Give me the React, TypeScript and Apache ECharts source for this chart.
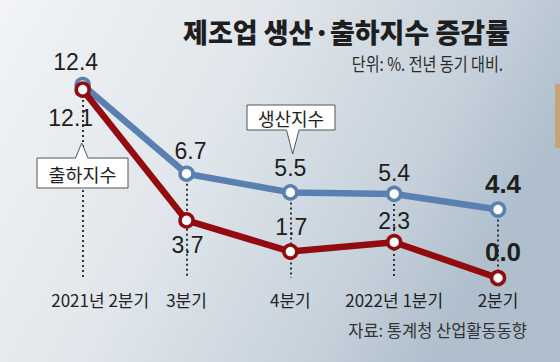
import React, { useEffect, useRef } from "react";
import * as echarts from "echarts";

const categories = ["2021년 2분기", "3분기", "4분기", "2022년 1분기", "2분기"];
const productionValues = [12.4, 6.7, 5.5, 5.4, 4.4];
const shipmentValues = [12.1, 3.7, 1.7, 2.3, 0.0];
// label offsets [dx, dy] relative to the point
const productionLabelOffsets = [[-7, -23], [4, -23], [0, -24], [0, -21], [5, -26]];
const shipmentLabelOffsets = [[-12, 28], [1, 25], [1, -25], [0, -21], [5, -26]];
const boldLast = true;

const titleText = "제조업 생산·출하지수 증감률";
const subtitleText = "단위: %. 전년 동기 대비.";
const sourceText = "자료: 통계청 산업활동동향";
const productionName = "생산지수";
const shipmentName = "출하지수";

const BLUE = "#5a80b2";
const RED = "#930b0f";
const NUM_FONT = '"Liberation Sans Narrow", "Liberation Sans", Arial, sans-serif';
const KR_FONT = '"Noto Sans CJK KR", "Noto Sans", sans-serif';

function makeLabels(values: number[], offsets: number[][]) {
  return values.map((v, i) => {
    const last = i === values.length - 1 && boldLast;
    return {
      value: v,
      label: {
        show: true,
        position: "inside",
        offset: offsets[i],
        formatter: v.toFixed(1),
        fontFamily: last ? '"Liberation Sans", Arial, sans-serif' : NUM_FONT,
        fontSize: last ? 26 : 23,
        fontWeight: last ? "bold" : "normal",
        color: "#1e1e1e",
      },
    };
  });
}

export default function App() {
  const ref = useRef<HTMLDivElement>(null);
  useEffect(() => {
    if (!ref.current) return;
    const chart = echarts.init(ref.current, undefined, { renderer: "svg" });
    const dropLines = categories.map((_, i) => [
      { coord: [i, Math.max(productionValues[i], shipmentValues[i])] },
      { coord: [i, 0] },
    ]);
    chart.setOption({
      animation: false,
      backgroundColor: {
        type: "linear",
        x: 0,
        y: 0,
        x2: 1,
        y2: 0.35,
        colorStops: [
          { offset: 0, color: "#f2f4f6" },
          { offset: 0.45, color: "#e0e6eb" },
          { offset: 0.8, color: "#c6d1db" },
          { offset: 1, color: "#afbfcd" },
        ],
      },
      grid: { left: 82.7, right: 62, top: 85, bottom: 84 },
      xAxis: {
        type: "category",
        boundaryGap: false,
        data: categories.map((c, i) =>
          i === 0 ? { value: c, textStyle: { padding: [0, 0, 0, 35] } } : c
        ),
        axisLine: { show: false },
        axisTick: { show: false },
        splitLine: { show: false },
        axisLabel: {
          margin: 13,
          fontFamily: KR_FONT,
          fontSize: 17,
          color: "#222",
          interval: 0,
        },
      },
      yAxis: { type: "value", show: false, min: 0, max: 12.4 },
      series: [
        {
          type: "line",
          data: [],
          z: 1,
          markLine: {
            z: 1,
            silent: true,
            symbol: ["none", "none"],
            label: { show: false },
            lineStyle: { type: [2, 3], color: "#333", width: 2 },
            data: dropLines,
          },
        },
        {
          name: productionName,
          type: "line",
          z: 3,
          data: makeLabels(productionValues, productionLabelOffsets),
          lineStyle: { color: BLUE, width: 6.5 },
          symbol: "circle",
          symbolSize: 13,
          itemStyle: { color: "#fff", borderColor: BLUE, borderWidth: 3.5 },
        },
        {
          name: shipmentName,
          type: "line",
          z: 4,
          data: makeLabels(shipmentValues, shipmentLabelOffsets),
          lineStyle: { color: RED, width: 6.5 },
          symbol: "circle",
          symbolSize: 13,
          itemStyle: { color: "#fff", borderColor: RED, borderWidth: 3.5 },
        },
      ],
      graphic: [
        {
          type: "rect",
          z: 0,
          shape: { x: 555, y: 84, width: 5, height: 64 },
          style: { fill: "#c8a27a" },
        },
        {
          type: "text",
          z: 100,
          x: 510,
          y: 31.5,
          style: {
            text: titleText,
            fontFamily: KR_FONT,
            fontSize: 27,
            fontWeight: 900,
            fill: "#1e1e1e",
            align: "right",
            verticalAlign: "middle",
          },
        },
        {
          type: "text",
          z: 100,
          x: 503,
          y: 63.5,
          scaleX: 0.84,
          style: {
            text: subtitleText,
            fontFamily: KR_FONT,
            fontSize: 18,
            fill: "#2a2a2a",
            align: "right",
            verticalAlign: "middle",
          },
        },
        {
          type: "text",
          z: 100,
          x: 527,
          y: 330,
          scaleX: 0.97,
          style: {
            text: sourceText,
            fontFamily: KR_FONT,
            fontSize: 17,
            fill: "#333",
            align: "right",
            verticalAlign: "middle",
          },
        },
        {
          type: "polygon",
          z: 100,
          shape: {
            points: [
              [247, 105], [335, 105], [335, 130], [299, 130],
              [292.7, 154], [286.5, 130], [247, 130],
            ],
          },
          style: { fill: "#fff", stroke: "#555", lineWidth: 1 },
        },
        {
          type: "text",
          z: 101,
          x: 291,
          y: 118,
          style: {
            text: productionName,
            fontFamily: KR_FONT,
            fontSize: 18,
            fill: "#1e1e1e",
            align: "center",
            verticalAlign: "middle",
          },
        },
        {
          type: "polygon",
          z: 100,
          shape: {
            points: [
              [37, 158], [75.5, 158], [81.7, 143], [88, 158],
              [128, 158], [128, 188], [37, 188],
            ],
          },
          style: { fill: "#fff", stroke: "#555", lineWidth: 1 },
        },
        {
          type: "text",
          z: 101,
          x: 82.5,
          y: 174,
          style: {
            text: shipmentName,
            fontFamily: KR_FONT,
            fontSize: 18.5,
            fill: "#1e1e1e",
            align: "center",
            verticalAlign: "middle",
          },
        },
      ],
    });
    return () => chart.dispose();
  }, []);
  return (
    <div
      ref={ref}
      style={{ position: "fixed", left: 0, top: 0, width: 560, height: 362 }}
    />
  );
}
